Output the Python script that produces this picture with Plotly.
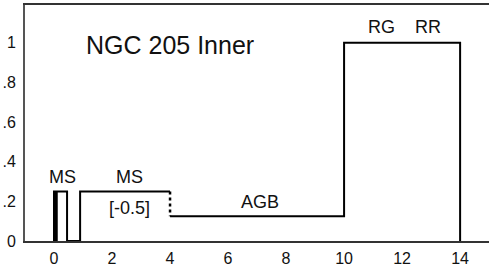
import plotly.graph_objects as go

# Step history (age in Gyr vs relative SFR)
step_x = [0, 0, 0.45, 0.45, 0.9, 0.9, 4.0]
step_y = [0, 0.25, 0.25, 0, 0, 0.25, 0.25]
dash_x = [4.0, 4.0]
dash_y = [0.25, 0.125]
old_x = [4.0, 10.0, 10.0, 14.0, 14.0]
old_y = [0.125, 0.125, 1.0, 1.0, 0]
thick_x = [0.06, 0.06]
thick_y = [0, 0.25]

xticks = [0, 2, 4, 6, 8, 10, 12, 14]
yticks = [0, 0.2, 0.4, 0.6, 0.8, 1.0]
ytick_labels = ["0", ".2", ".4", ".6", ".8", "1"]

labels = [
    ("NGC 205 Inner", 4.0, 0.988, 25),
    ("MS", 0.29, 0.325, 18),
    ("MS", 2.59, 0.325, 18),
    ("[-0.5]", 2.59, 0.166, 18),
    ("AGB", 7.1, 0.198, 18),
    ("RG", 11.3, 1.079, 18),
    ("RR", 12.88, 1.079, 18),
]

FONT = "Liberation Sans, Arial, sans-serif"

fig = go.Figure()
line = dict(color="black", width=2)
fig.add_trace(go.Scatter(x=step_x, y=step_y, mode="lines", line=line))
fig.add_trace(go.Scatter(x=dash_x, y=dash_y, mode="lines",
                         line=dict(color="black", width=2.5, dash="dot")))
fig.add_trace(go.Scatter(x=old_x, y=old_y, mode="lines", line=line))
fig.add_trace(go.Scatter(x=thick_x, y=thick_y, mode="lines",
                         line=dict(color="black", width=4)))

for t, x, y, s in labels:
    fig.add_annotation(x=x, y=y, text=t, showarrow=False,
                       font=dict(size=s, color="#111", family=FONT))

# plot area is wider than the window so its right edge is cropped away
fig.update_layout(
    width=510, height=274,
    margin=dict(l=25, r=0, t=5, b=33),
    plot_bgcolor="white", paper_bgcolor="white",
    showlegend=False,
    font=dict(family=FONT, size=16, color="#111"),
)
fig.update_xaxes(range=[-1.0, 15.72], tickvals=xticks, showgrid=False,
                 zeroline=False, showline=True, linecolor="#333", linewidth=2,
                 mirror=True, ticks="outside", ticklen=2, tickcolor="white",
                 automargin=False,
                 tickfont=dict(size=16, family=FONT, color="#111"))
fig.update_yaxes(range=[0, 1.19], tickvals=yticks, ticktext=ytick_labels,
                 showgrid=False, zeroline=False, showline=True,
                 linecolor="#555", linewidth=2, ticks="outside", ticklen=4,
                 tickcolor="white", automargin=False,
                 tickfont=dict(size=16, family=FONT, color="#111"))

fig.write_html(
    "out.html",
    config={"displayModeBar": False},
    post_script="document.body.style.margin='0';document.body.style.overflow='hidden';",
)
